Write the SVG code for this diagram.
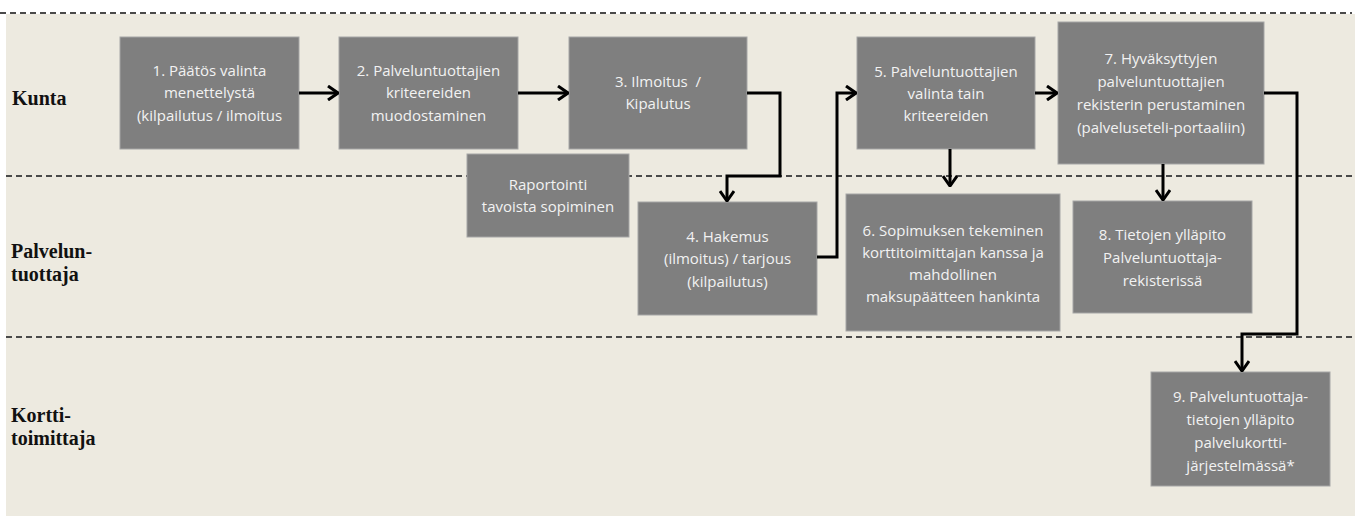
<svg xmlns="http://www.w3.org/2000/svg" width="1360" height="516" viewBox="0 0 1360 516">
  <defs>
    <marker id="chev" viewBox="0 0 12 16" refX="11" refY="8" markerWidth="12" markerHeight="16" markerUnits="userSpaceOnUse" orient="auto">
      <path d="M1,1 L11,8 L1,15" fill="none" stroke="#000" stroke-width="3" stroke-linejoin="miter"/>
    </marker>
  </defs>
  <style>
    .panel { fill: #edeae0; }
    .lane { stroke: #4a4a4a; stroke-width: 2; stroke-dasharray: 6 4; fill: none; }
    .box { fill: #7f7f7f; stroke: #a6a6a6; stroke-width: 1; }
    .bt { font-family: "Open Sans", "Liberation Sans", sans-serif; font-size: 15px; fill: #f2f2f2; text-anchor: middle; }
    .lbl { font-family: "Liberation Serif", "DejaVu Serif", serif; font-weight: bold; font-size: 20px; fill: #111; }
    .conn { fill: none; stroke: #000; stroke-width: 3; stroke-linejoin: miter; }
  </style>

  <rect width="1360" height="516" fill="#ffffff"/>
  <rect class="panel" x="6" y="14" width="1349" height="502"/>

  <!-- swimlane separators -->
  <g id="lanes">
    <line class="lane" x1="0" y1="13" x2="1352" y2="13"/>
    <line class="lane" x1="6" y1="176" x2="1352" y2="176"/>
    <line class="lane" x1="6" y1="337" x2="1352" y2="337"/>
  </g>

  <!-- lane titles -->
  <g id="lane-labels">
    <text class="lbl" x="12" y="105">Kunta</text>
    <text class="lbl" x="11" y="258">Palvelun-</text>
    <text class="lbl" x="11" y="281">tuottaja</text>
    <text class="lbl" x="11" y="422">Kortti-</text>
    <text class="lbl" x="11" y="445">toimittaja</text>
  </g>

  <g id="n1">
    <rect class="box" x="120" y="37" width="179" height="112"/>
    <text class="bt" x="209.5" y="76">1. Päätös valinta</text>
    <text class="bt" x="209.5" y="98">menettelystä</text>
    <text class="bt" x="209.5" y="121">(kilpailutus / ilmoitus</text>
  </g>
  <g id="n2">
    <rect class="box" x="339" y="37" width="179" height="112"/>
    <text class="bt" x="428.5" y="76">2. Palveluntuottajien</text>
    <text class="bt" x="428.5" y="98">kriteereiden</text>
    <text class="bt" x="428.5" y="121">muodostaminen</text>
  </g>
  <g id="n3">
    <rect class="box" x="569" y="37" width="178" height="112"/>
    <text class="bt" x="658" y="87" xml:space="preserve">3. Ilmoitus  /</text>
    <text class="bt" x="658" y="109">Kipalutus</text>
  </g>
  <g id="n-raportointi">
    <rect class="box" x="467" y="154" width="162" height="83"/>
    <text class="bt" x="548" y="190">Raportointi</text>
    <text class="bt" x="548" y="212">tavoista sopiminen</text>
  </g>
  <g id="n4">
    <rect class="box" x="638" y="202" width="179" height="113"/>
    <text class="bt" x="727.5" y="242">4. Hakemus</text>
    <text class="bt" x="727.5" y="264">(ilmoitus) / tarjous</text>
    <text class="bt" x="727.5" y="287">(kilpailutus)</text>
  </g>
  <g id="n5">
    <rect class="box" x="857" y="37" width="178" height="112"/>
    <text class="bt" x="946" y="77">5. Palveluntuottajien</text>
    <text class="bt" x="946" y="99">valinta tain</text>
    <text class="bt" x="946" y="121">kriteereiden</text>
  </g>
  <g id="n6">
    <rect class="box" x="846" y="194" width="214" height="137"/>
    <text class="bt" x="953" y="236">6. Sopimuksen tekeminen</text>
    <text class="bt" x="953" y="258">korttitoimittajan kanssa ja</text>
    <text class="bt" x="953" y="280">mahdollinen</text>
    <text class="bt" x="953" y="302">maksupäätteen hankinta</text>
  </g>
  <g id="n7">
    <rect class="box" x="1058" y="22" width="206" height="142"/>
    <text class="bt" x="1161" y="64">7. Hyväksyttyjen</text>
    <text class="bt" x="1161" y="87">palveluntuottajien</text>
    <text class="bt" x="1161" y="110">rekisterin perustaminen</text>
    <text class="bt" x="1161" y="133">(palveluseteli-portaaliin)</text>
  </g>
  <g id="n8">
    <rect class="box" x="1073" y="201" width="179" height="112"/>
    <text class="bt" x="1162.5" y="240">8. Tietojen ylläpito</text>
    <text class="bt" x="1162.5" y="263">Palveluntuottaja-</text>
    <text class="bt" x="1162.5" y="286">rekisterissä</text>
  </g>
  <g id="n9">
    <rect class="box" x="1151" y="372" width="179" height="114"/>
    <text class="bt" x="1240.5" y="402">9. Palveluntuottaja-</text>
    <text class="bt" x="1240.5" y="425">tietojen ylläpito</text>
    <text class="bt" x="1240.5" y="448">palvelukortti-</text>
    <text class="bt" x="1240.5" y="471">järjestelmässä*</text>
  </g>

  <!-- flow connectors -->
  <g id="connectors">
    <path class="conn" d="M299,93 H338" marker-end="url(#chev)"/>
    <path class="conn" d="M518,93 H568" marker-end="url(#chev)"/>
    <path class="conn" d="M747,93 H780 V176 H727 V201" marker-end="url(#chev)"/>
    <path class="conn" d="M817,257 H837 V93 H856" marker-end="url(#chev)"/>
    <path class="conn" d="M950,149 V186" marker-end="url(#chev)"/>
    <path class="conn" d="M1035,93 H1057" marker-end="url(#chev)"/>
    <path class="conn" d="M1163,164 V200" marker-end="url(#chev)"/>
    <path class="conn" d="M1264,93 H1297 V334 H1242 V371" marker-end="url(#chev)"/>
  </g>
</svg>
